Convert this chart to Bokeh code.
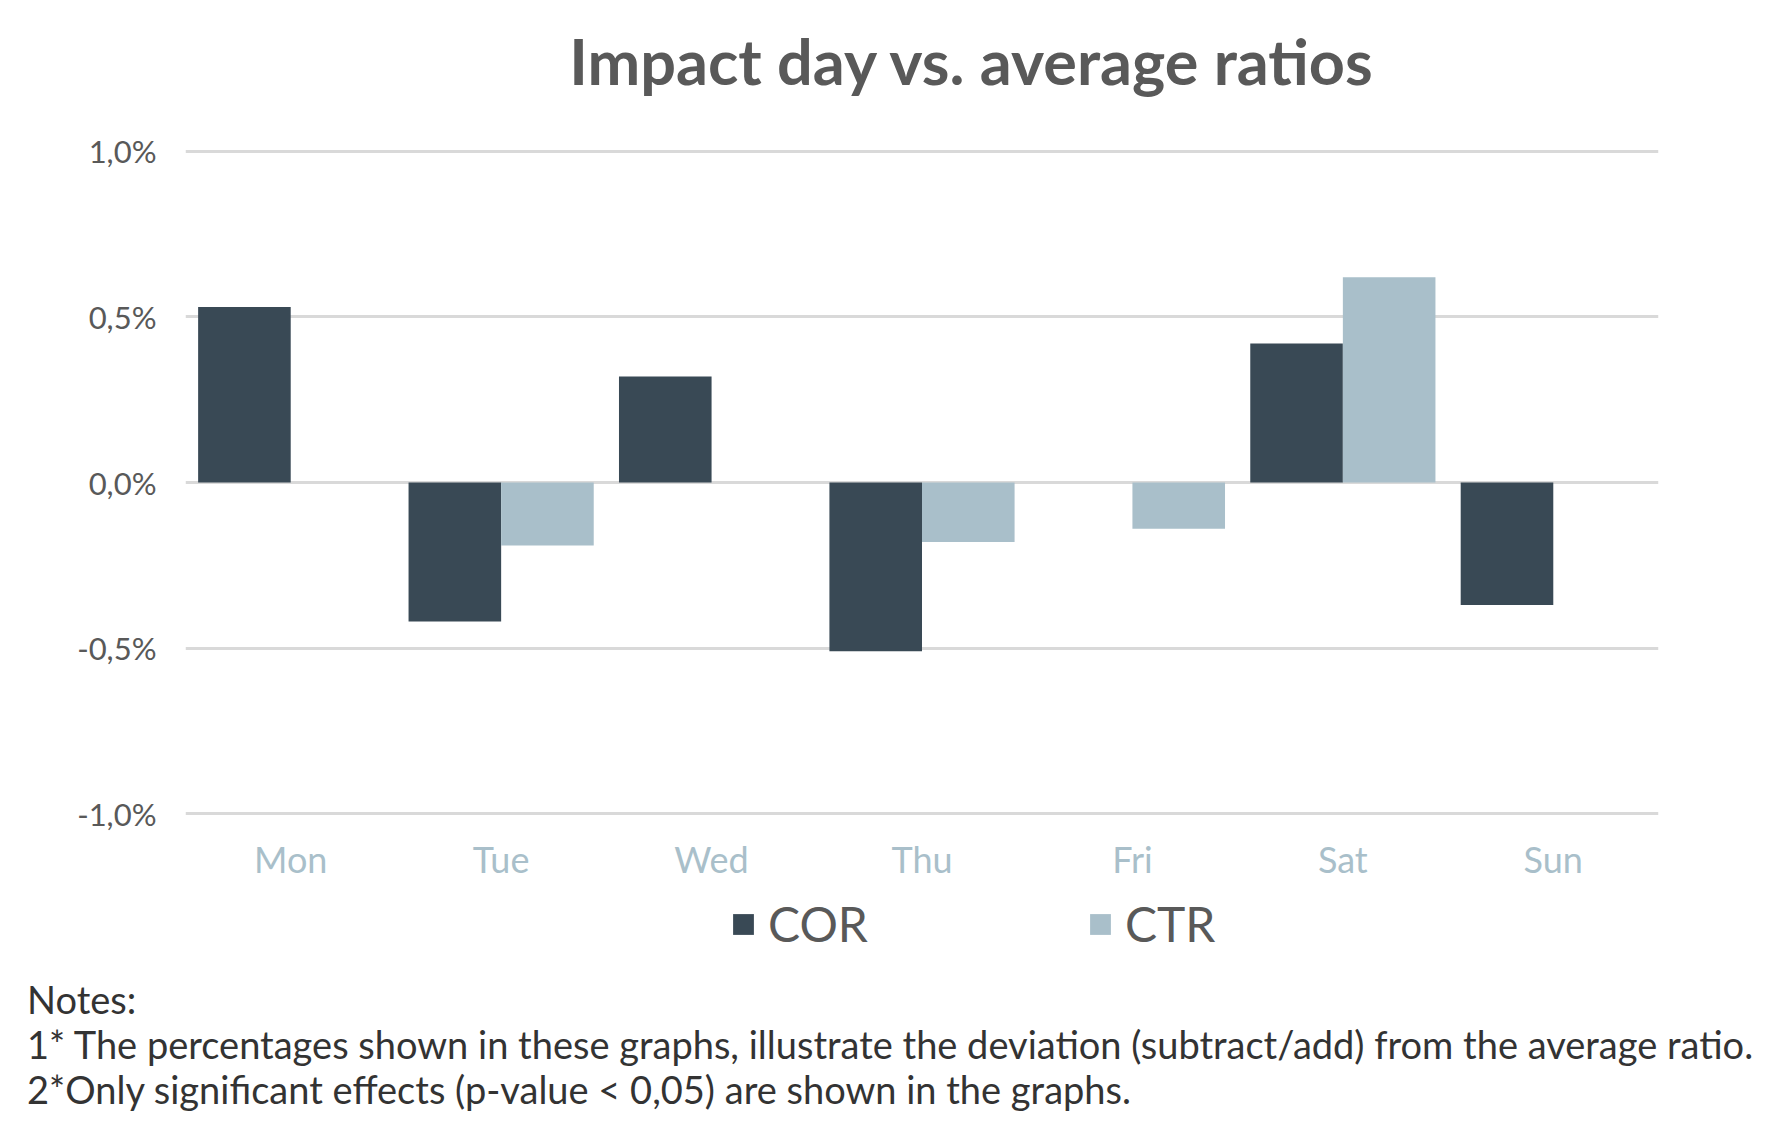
import html
from bokeh.plotting import figure
from bokeh.layouts import column
from bokeh.models import (FactorRange, ColumnDataSource, FixedTicker, Label,
                          Legend, LegendItem, Div)
from bokeh.transform import dodge
from bokeh.embed import file_html
from bokeh.resources import INLINE

# ---- data ----
days = ["Mon", "Tue", "Wed", "Thu", "Fri", "Sat", "Sun"]
cor = [0.53, -0.42, 0.32, -0.51, float("nan"), 0.42, -0.37]
ctr = [float("nan"), -0.19, float("nan"), -0.18, -0.14, 0.62, float("nan")]
y_ticks = [-1.0, -0.5, 0.0, 0.5, 1.0]
y_tick_labels = ["-1,0%", "-0,5%", "0,0%", "0,5%", "1,0%"]
series_names = ["COR", "CTR"]
title_text = "Impact day vs. average ratios"
notes = [
    "Notes:",
    "1* The percentages shown in these graphs, illustrate the deviation (subtract/add) from the average ratio.",
    "2*Only significant effects (p-value < 0,05) are shown in the graphs.",
]

COR_COLOR = "#394955"
CTR_COLOR = "#A9BFCA"
FONT = "Lato"
W = 1764
FL = 185          # frame left
FW, FH = 1473, 668
FR = W - FL - FW

src = ColumnDataSource(dict(day=days, cor=cor, ctr=ctr))

# ---------- title strip ----------
TH = 110
top = figure(width=W, height=TH, x_range=(0, 1), y_range=(0, 1),
             output_backend="svg", toolbar_location=None, title=None,
             min_border_left=FL, min_border_right=FR, min_border_top=0,
             min_border_bottom=0, outline_line_color=None)
top.axis.visible = False
top.grid.visible = False
top.add_layout(Label(x=972 - FL, y=TH - 60, x_units="screen", y_units="screen",
                     text=title_text, text_align="center", text_baseline="middle",
                     text_font=FONT, text_font_style="bold",
                     text_font_size="63px", text_color="#595959"))

# ---------- main chart ----------
MT = 149 - TH
MB = 66
MH = MT + FH + MB
p = figure(x_range=FactorRange(*days), y_range=(-1.006, 1.006),
           width=W, height=MH, output_backend="svg", toolbar_location=None,
           title=None, min_border_left=FL, min_border_right=FR,
           min_border_top=MT, min_border_bottom=MB, outline_line_color=None)

p.vbar(x=dodge("day", -0.22, range=p.x_range), top="cor", bottom=0,
       width=0.44, source=src, fill_color=COR_COLOR, line_color=None)
p.vbar(x=dodge("day", 0.22, range=p.x_range), top="ctr", bottom=0,
       width=0.44, source=src, fill_color=CTR_COLOR, line_color=None)

p.xgrid.grid_line_color = None
p.ygrid.grid_line_color = "#D9D9D9"
p.ygrid.grid_line_width = 3
p.yaxis.ticker = FixedTicker(ticks=y_ticks)
p.ygrid.ticker = FixedTicker(ticks=y_ticks)

p.yaxis.major_label_overrides = {t: s for t, s in zip(y_ticks, y_tick_labels)}
p.yaxis.axis_line_color = None
p.yaxis.major_tick_line_color = None
p.yaxis.minor_tick_line_color = None
p.yaxis.major_tick_out = 0
p.yaxis.major_label_standoff = 29
p.yaxis.major_label_text_font = FONT
p.yaxis.major_label_text_font_size = "31px"
p.yaxis.major_label_text_color = "#595959"

p.xaxis.axis_line_color = None
p.xaxis.major_tick_line_color = None
p.xaxis.major_tick_out = 0
p.xaxis.major_label_standoff = 21
p.xaxis.major_label_text_font = FONT
p.xaxis.major_label_text_font_size = "36px"
p.xaxis.major_label_text_color = "#A9BFCA"

# ---------- legend strip ----------
LH = 89
leg = figure(width=W, height=LH, x_range=FactorRange(*days), y_range=(10, 11),
             output_backend="svg", toolbar_location=None, title=None,
             min_border_left=FL, min_border_right=FR, min_border_top=0,
             min_border_bottom=0, outline_line_color=None)
leg.axis.visible = False
leg.grid.visible = False
# same bars, out of this strip's view; they only feed the legend swatches
g_cor = leg.vbar(x=dodge("day", -0.22, range=leg.x_range), top="cor", bottom=0,
                 width=0.44, source=src, fill_color=COR_COLOR, line_color=None)
g_ctr = leg.vbar(x=dodge("day", 0.22, range=leg.x_range), top="ctr", bottom=0,
                 width=0.44, source=src, fill_color=CTR_COLOR, line_color=None)
legend = Legend(items=[LegendItem(label=series_names[0], renderers=[g_cor]),
                       LegendItem(label=series_names[1], renderers=[g_ctr])],
                orientation="horizontal", location=(730 - FL, 20),
                glyph_width=26, glyph_height=26, label_standoff=12,
                spacing=219, padding=0, margin=0,
                border_line_color=None, background_fill_alpha=0,
                label_text_font=FONT, label_text_font_size="48px",
                label_text_color="#595959")
leg.add_layout(legend)

# ---------- notes ----------
notes_div = Div(text="<br>".join(html.escape(n) for n in notes),
                width=W, height=150,
                styles={"font-family": "Lato", "font-size": "38px",
                        "line-height": "45px", "color": "#333333",
                        "padding-left": "22px", "white-space": "nowrap"})

layout = column(top, p, leg, notes_div, spacing=0)
open("out.html", "w").write(file_html(layout, INLINE))
